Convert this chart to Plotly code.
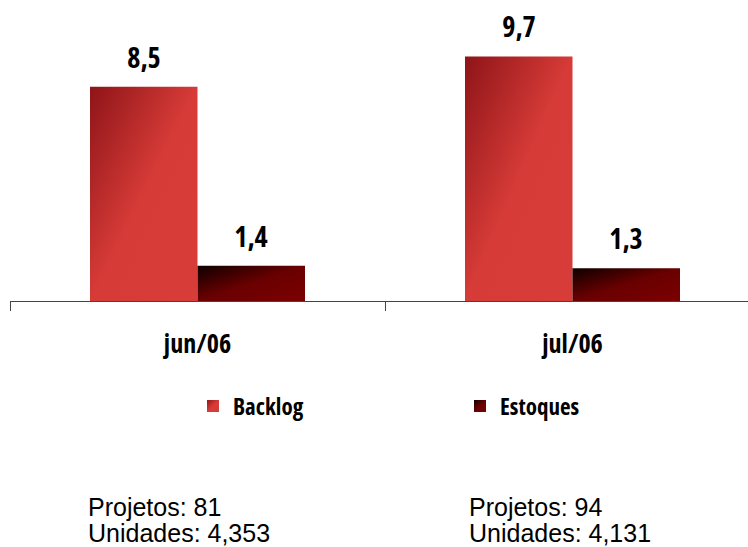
import plotly.graph_objects as go

categories = ["jun/06", "jul/06"]
backlog = [8.5, 9.7]
estoques = [1.4, 1.3]
series_names = ["Backlog", "Estoques"]
projetos = [81, 94]
unidades = ["4,353", "4,131"]

NARROW = "Open Sans"
REG = "Liberation Sans, Arial, sans-serif"

colors = ["#D33935", "#780000"]

fig = go.Figure()
for name, vals, col in zip(series_names, [backlog, estoques], colors):
    fig.add_trace(go.Bar(x=categories, y=vals, name=name,
                         marker=dict(color=col, line=dict(width=0))))

def fmt(v):
    return f"{v:.1f}".replace(".", ",")

W, H = 748, 547
ml, mr, mt, mb = 10, 0, 11, 246
plot_w = W - ml - mr
cat_px = 375.0
x_max = -0.5 + plot_w / cat_px
bargap = 1 - 215 / cat_px
bar_px = cat_px * (1 - bargap) / 2

annotations = []
for si, vals in enumerate([backlog, estoques]):
    for ci, v in enumerate(vals):
        annotations.append(dict(
            x=categories[ci], y=v, xref="x", yref="y",
            text=fmt(v), showarrow=False, yanchor="bottom",
            xshift=(si - 0.5) * bar_px, yshift=9,
            font=dict(family=NARROW, size=28, color="black", weight="bold")))

plot_h = H - mt - mb
bottom_px = H - mb
text_x_px = [86, 467]
for ci in range(len(categories)):
    xp = (text_x_px[ci] - ml) / plot_w
    annotations.append(dict(x=xp, y=(bottom_px - 507) / plot_h, xref="paper", yref="paper",
                            text=f"Projetos: {projetos[ci]}", showarrow=False,
                            xanchor="left", yanchor="middle",
                            font=dict(family=REG, size=25, color="black")))
    annotations.append(dict(x=xp, y=(bottom_px - 533) / plot_h, xref="paper", yref="paper",
                            text=f"Unidades: {unidades[ci]}", showarrow=False,
                            xanchor="left", yanchor="middle",
                            font=dict(family=REG, size=25, color="black")))

fig.update_layout(
    width=W, height=H,
    margin=dict(l=ml, r=mr, t=mt, b=mb),
    paper_bgcolor="white", plot_bgcolor="white",
    barmode="group", bargap=bargap, bargroupgap=0,
    showlegend=True,
    legend=dict(orientation="h", xref="container", yref="container",
                x=193 / W, y=(H - 406) / H, xanchor="left", yanchor="middle",
                entrywidth=222, entrywidthmode="pixels", itemwidth=30,
                font=dict(family=NARROW, size=23, color="black", weight="bold"),
                bgcolor="rgba(0,0,0,0)"),
    xaxis=dict(type="category", range=[-0.5, x_max], showline=True,
               linecolor="#444", linewidth=1, ticks="outside", tickson="boundaries",
               ticklen=9, tickcolor="#444", showgrid=False, zeroline=False,
               ticklabelstandoff=20,
               tickfont=dict(family=NARROW, size=26, color="black", weight="bold")),
    yaxis=dict(range=[0, 11.5], visible=False, showgrid=False, zeroline=False),
    annotations=annotations,
)

post = """
document.body.style.margin = '0';
var st = document.createElement('style');
st.textContent = 'text[style*="Open Sans"]{font-stretch:75%;}';
document.head.appendChild(st);
(function(){
  var gd = document.getElementById('{plot_id}');
  var NS = 'http://www.w3.org/2000/svg';
  var grads = [
    {id:'gBacklog', stops:[[0,'#8E1418'],[0.5,'#D63B37'],[1,'#D83C38']]},
    {id:'gEstoques', stops:[[0,'#0E0000'],[0.5,'#6A0000'],[1,'#7C0000']]}
  ];
  function apply(){
    if(!gd) return;
    var svg = gd.querySelector('svg.main-svg');
    if(!svg) return;
    var defs = svg.querySelector('defs');
    if(!defs){ defs = document.createElementNS(NS,'defs'); svg.insertBefore(defs, svg.firstChild); }
    grads.forEach(function(g){
      if(document.getElementById(g.id)) return;
      var lg = document.createElementNS(NS,'linearGradient');
      lg.setAttribute('id', g.id);
      lg.setAttribute('x1','0'); lg.setAttribute('y1','0');
      lg.setAttribute('x2','1'); lg.setAttribute('y2','1');
      g.stops.forEach(function(s){
        var st = document.createElementNS(NS,'stop');
        st.setAttribute('offset', s[0]);
        st.setAttribute('stop-color', s[1]);
        lg.appendChild(st);
      });
      defs.appendChild(lg);
    });
    var traces = gd.querySelectorAll('.barlayer .trace');
    traces.forEach(function(t, i){
      if(i >= grads.length) return;
      t.querySelectorAll('.point path').forEach(function(p){ p.style.fill = 'url(#' + grads[i].id + ')'; });
    });
    var lt = gd.querySelectorAll('.legend .traces');
    lt.forEach(function(t, i){
      if(i >= grads.length) return;
      t.querySelectorAll('.legendpoints path').forEach(function(p){ p.style.fill = 'url(#' + grads[i].id + ')'; });
    });
  }
  apply();
  setTimeout(apply, 50);
  setTimeout(apply, 300);
})();
"""
fig.write_html("out.html", post_script=post, config={"displayModeBar": False})
